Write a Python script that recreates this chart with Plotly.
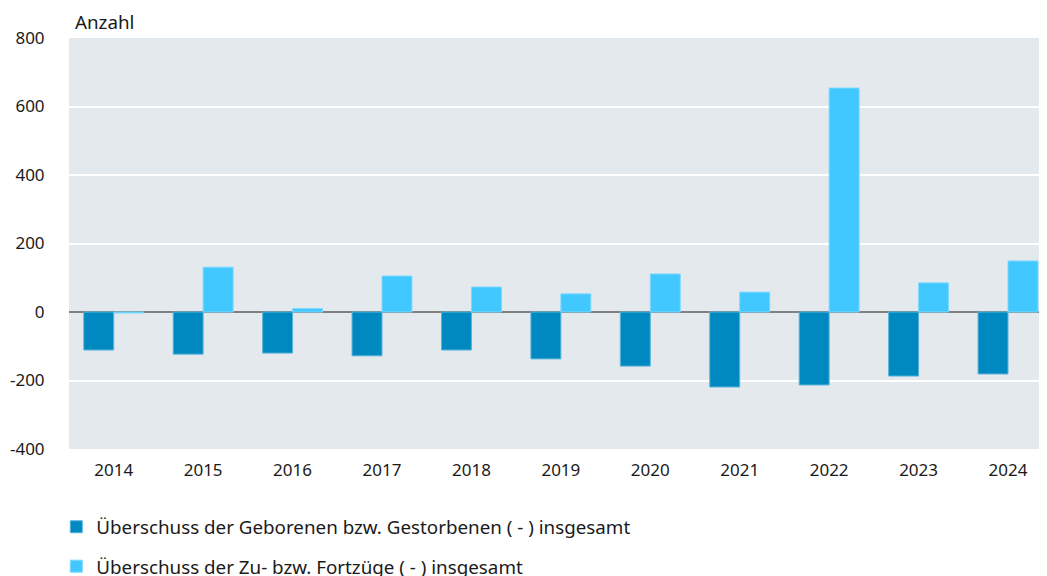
import plotly.graph_objects as go

years = ["2014", "2015", "2016", "2017", "2018", "2019", "2020", "2021", "2022", "2023", "2024"]
geb = [-111, -123, -120, -128, -111, -137, -158, -219, -213, -187, -181]
zu = [-3, 131, 10, 105, 73, 53, 111, 58, 654, 85, 149]
yticks = [-400, -200, 0, 200, 400, 600, 800]

name_geb = "Überschuss der Geborenen bzw. Gestorbenen ( - ) insgesamt"
name_zu = "Überschuss der Zu- bzw. Fortzüge ( - ) insgesamt"

fig = go.Figure()
fig.add_trace(go.Bar(x=years, y=geb, name=name_geb, legendgroup="a",
                     marker=dict(color="#0089C1", line=dict(color="#5AB4DA", width=1))))
fig.add_trace(go.Bar(x=years, y=zu, name=name_zu, legendgroup="b",
                     marker=dict(color="#40C8FF", line=dict(color="#7DD8FF", width=1))))

font = "Source Sans Pro, Noto Sans, sans-serif"
fig.update_layout(
    width=1039, height=568,
    margin=dict(l=61, r=0, t=30, b=127, autoexpand=False),
    paper_bgcolor="white", plot_bgcolor="#E4E9EE",
    barmode="group", bargap=0.33, bargroupgap=0,
    font=dict(family=font, size=17, color="#1a1a1a"),
    showlegend=True,
    legend=dict(orientation="v", x=-0.013, xanchor="left", y=-0.1436, yanchor="top",
                tracegroupgap=12, font=dict(size=18.8), itemwidth=30,
                traceorder="grouped", bgcolor="rgba(0,0,0,0)"),
    xaxis=dict(range=[-0.5, 10.436], showgrid=False, ticks="outside", ticklen=6,
               tickcolor="rgba(0,0,0,0)", showline=False, automargin=False),
    yaxis=dict(range=[-400, 800], tickvals=yticks, ticktext=[str(v) for v in yticks],
               showgrid=True, gridcolor="white", gridwidth=2,
               zeroline=True, zerolinecolor="#808080", zerolinewidth=2,
               ticks="outside", ticklen=20, tickcolor="rgba(0,0,0,0)", showline=False,
               automargin=False),
    annotations=[dict(text="Anzahl", xref="paper", yref="paper", x=0.004, y=1.0,
                      xanchor="left", yanchor="bottom", yshift=1, showarrow=False,
                      font=dict(size=18.8))],
)

fig.write_html("out.html")
